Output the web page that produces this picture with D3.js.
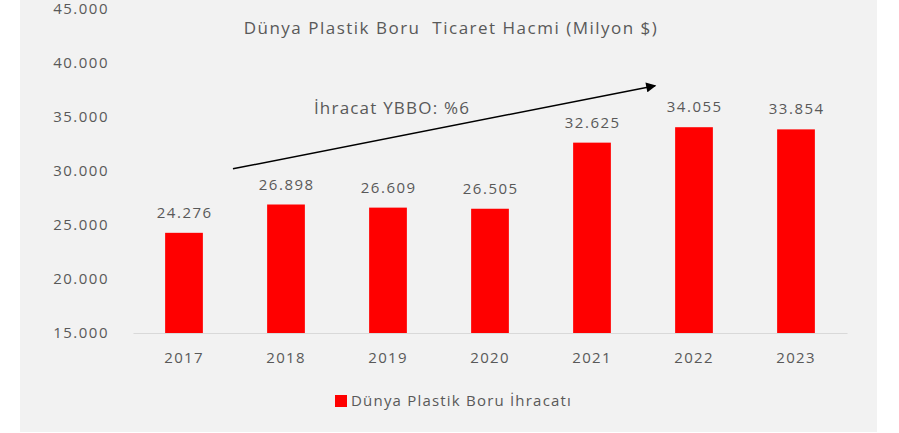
<!DOCTYPE html>
<html>
<head>
<meta charset="utf-8">
<script src="https://cdn.jsdelivr.net/npm/d3@7"></script>
<style>
  body { margin: 0; background: #fff; }
  svg { display: block; font-family: "Open Sans", sans-serif; }
</style>
</head>
<body>
<div id="chart"></div>
<script>
// donnees
var years = ["2017", "2018", "2019", "2020", "2021", "2022", "2023"];
var exports = [24276, 26898, 26609, 26505, 32625, 34055, 33854];
var yTicks = [15000, 20000, 25000, 30000, 35000, 40000, 45000];
var title = "Dünya Plastik Boru  Ticaret Hacmi (Milyon $)";
var seriesName = "Dünya Plastik Boru İhracatı";
var note = "İhracat YBBO: %6";
// arrow goes from [year, value] to [year, value]
var arrowFrom = ["2017", 30200];
var arrowTo = ["2022", 37900];

var width = 899, height = 433;
var margin = {top: 9, right: 52, bottom: 100, left: 133};

var svg = d3.select("#chart").append("svg")
    .attr("width", width)
    .attr("height", height);

// fond gris
svg.append("rect")
    .attr("x", 20).attr("y", 0)
    .attr("width", 857).attr("height", 432)
    .attr("fill", "#f2f2f2");

var tr = d3.formatLocale({decimal: ",", thousands: ".", grouping: [3], currency: ["", "$"]});
var fmt = tr.format(",d");

var x = d3.scaleBand()
    .domain(years)
    .range([margin.left, width - margin.right])
    .paddingInner(0.63)
    .paddingOuter(0.315);

var y = d3.scaleLinear()
    .domain([15000, 45000])
    .range([height - margin.bottom, margin.top]);

var textCol = "#595959";

function styleTxt(sel, size, spacing) {
    sel.attr("fill", textCol)
        .style("font-size", size + "px")
        .style("letter-spacing", spacing + "px")
        .style("font-family", "Open Sans, sans-serif");
}

// axe y
var yAxis = svg.append("g")
    .attr("transform", "translate(" + margin.left + ",0)")
    .call(d3.axisLeft(y).tickValues(yTicks).tickFormat(fmt).tickSize(0).tickPadding(24));
yAxis.select(".domain").remove();
styleTxt(yAxis.selectAll("text"), 15, 1.5);

// axe x
var xAxis = svg.append("g")
    .attr("transform", "translate(0," + y(15000) + ")")
    .call(d3.axisBottom(x).tickSize(0).tickPadding(19));
xAxis.select(".domain").attr("stroke", "#d9d9d9");
styleTxt(xAxis.selectAll("text"), 15, 1.3);

var data = years.map(function(d, i) { return {year: d, value: exports[i]}; });

svg.selectAll(".bar")
    .data(data)
    .enter().append("rect")
    .attr("class", "bar")
    .attr("x", function(d) { return x(d.year); })
    .attr("y", function(d) { return y(d.value); })
    .attr("width", x.bandwidth())
    .attr("height", function(d) { return y(15000) - y(d.value); })
    .attr("fill", "#ff0000");

svg.selectAll(".lbl")
    .data(data)
    .enter().append("text")
    .attr("class", "lbl")
    .attr("x", function(d) { return x(d.year) + x.bandwidth() / 2 + 0.7; })
    .attr("y", function(d) { return y(d.value) - 15; })
    .attr("text-anchor", "middle")
    .call(styleTxt, 15, 1.5)
    .text(function(d) { return fmt(d.value); });

// titre
svg.append("text")
    .attr("x", 451).attr("y", 34)
    .attr("text-anchor", "middle")
    .style("white-space", "pre")
    .call(styleTxt, 17, 1.5)
    .text(title);

// fleche
svg.append("defs").append("marker")
    .attr("id", "head")
    .attr("viewBox", "0 0 10 10")
    .attr("refX", 9).attr("refY", 5)
    .attr("markerWidth", 11).attr("markerHeight", 10)
    .attr("markerUnits", "userSpaceOnUse")
    .attr("orient", "auto")
    .append("path").attr("d", "M0,0L10,5L0,10Z").attr("fill", "#000");

var cx = function(yr) { return x(yr) + x.bandwidth() / 2; };

svg.append("line")
    .attr("x1", cx(arrowFrom[0]) + x.step() * 0.48)
    .attr("y1", y(arrowFrom[1]))
    .attr("x2", cx(arrowTo[0]) - x.step() * 0.38)
    .attr("y2", y(arrowTo[1]))
    .attr("stroke", "#000")
    .attr("stroke-width", 1.5)
    .attr("marker-end", "url(#head)");

svg.append("text")
    .attr("x", 392).attr("y", 114)
    .attr("text-anchor", "middle")
    .call(styleTxt, 17, 1.2)
    .text(note);

// legende
svg.append("rect")
    .attr("x", 335).attr("y", 395)
    .attr("width", 12).attr("height", 12)
    .attr("fill", "#ff0000");
svg.append("text")
    .attr("x", 351).attr("y", 406)
    .call(styleTxt, 15, 1.2)
    .text(seriesName);
</script>
</body>
</html>
